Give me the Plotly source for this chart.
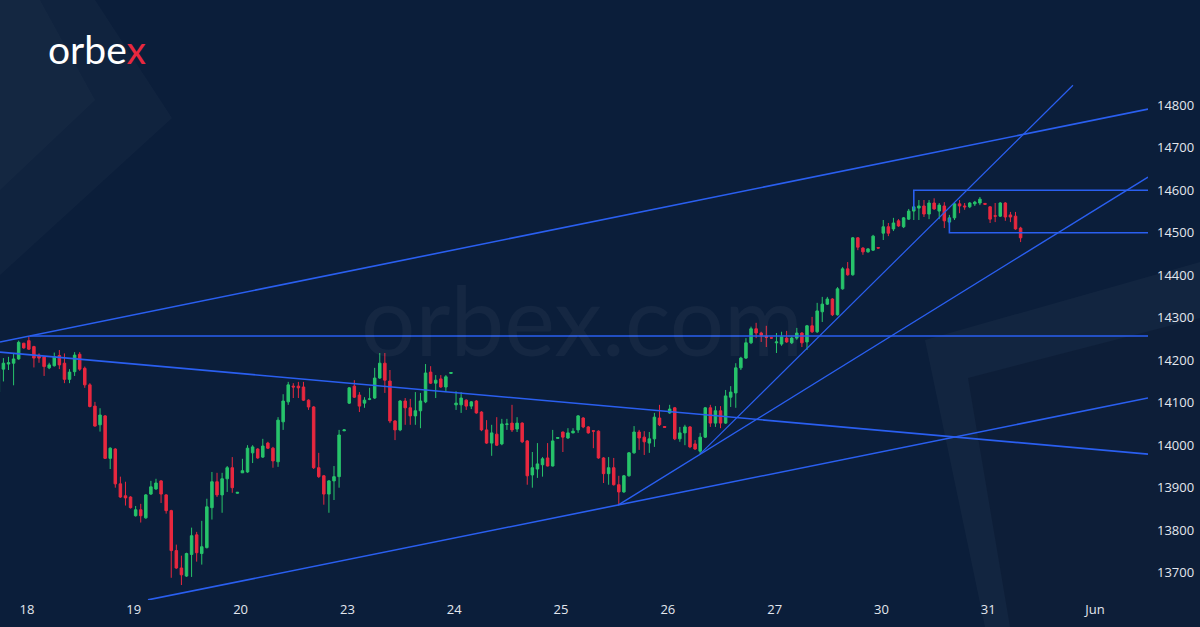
import plotly.graph_objects as go

# hourly candles, bar index 0..201 (May 17 late -> May 31)
open_ = [14125, 14179, 14191, 14193, 14203, 14240, 14246, 14232, 14212, 14208,
         14182, 14187, 14211, 14193, 14155, 14173, 14214, 14181, 14142, 14092,
         14048, 14069, 13969, 13991, 13909, 13881, 13878, 13834, 13848, 13829,
         13885, 13897, 13916, 13883, 13846, 13752, 13711, 13692, 13743, 13789,
         13745, 13759, 13853, 13914, 13883, 13921, 13947, 13887, 13935, 13937,
         13982, 13991, 13972, 14005, 13993, 13961, 14055, 14102, 14139, 14139,
         14137, 14106, 14090, 13947, 13928, 13885, 13916, 13926, 14034, 14099,
         14139, 14118, 14099, 14108, 14111, 14158, 14193, 14151, 14057, 14036,
         14104, 14088, 14069, 14081, 14102, 14172, 14146, 14156, 14137, 14169,
         14095, 14095, 14106, 14092, 14104, 14078, 14036, 14005, 14026, 14003,
         14049, 14052, 14038, 14052, 14010, 13930, 13944, 13954, 13970, 13951,
         14016, 14031, 14017, 14029, 14036, 14064, 14043, 14034, 14033, 13970,
         13933, 13947, 13907, 13890, 13928, 13982, 14031, 14019, 14005, 14015,
         14064, 14044, 14076, 14088, 14015, 14029, 14043, 14003, 13986, 14019,
         14088, 14052, 14081, 14052, 14113, 14123, 14182, 14205, 14241, 14274,
         14264, 14256, 14253, 14241, 14238, 14252, 14241, 14252, 14264, 14243,
         14281, 14267, 14314, 14332, 14344, 14307, 14368, 14415, 14401, 14488,
         14464, 14455, 14459, 14465, 14499, 14514, 14509, 14528, 14514, 14532,
         14551, 14558, 14563, 14544, 14570, 14551, 14563, 14525, 14535, 14568,
         14563, 14561, 14568, 14570, 14569, 14561, 14540, 14539, 14570, 14542,
         14539, 14511]
high = [14180, 14205, 14208, 14217, 14246, 14241, 14257, 14234, 14216, 14210,
        14194, 14218, 14224, 14216, 14179, 14219, 14219, 14185, 14146, 14102,
        14087, 14071, 13995, 13993, 13926, 13914, 13880, 13857, 13862, 13885,
        13916, 13921, 13918, 13885, 13848, 13766, 13740, 13747, 13806, 13796,
        13822, 13874, 13937, 13935, 13935, 13951, 13972, 13890, 13968, 14000,
        14000, 13993, 14015, 14008, 13996, 14066, 14120, 14149, 14146, 14149,
        14149, 14108, 14092, 13982, 13930, 13918, 13951, 14036, 14038, 14137,
        14153, 14125, 14113, 14135, 14182, 14217, 14217, 14177, 14059, 14106,
        14111, 14109, 14125, 14123, 14191, 14186, 14165, 14165, 14165, 14172,
        14127, 14125, 14108, 14104, 14106, 14080, 14059, 14048, 14066, 14062,
        14062, 14095, 14066, 14054, 14012, 13984, 14005, 13972, 14005, 14036,
        14019, 14032, 14040, 14040, 14071, 14066, 14045, 14035, 14035, 13972,
        13972, 13970, 13928, 13930, 13984, 14045, 14036, 14033, 14031, 14076,
        14095, 14045, 14095, 14090, 14043, 14048, 14045, 14012, 14029, 14090,
        14095, 14092, 14092, 14130, 14139, 14193, 14208, 14252, 14279, 14288,
        14267, 14281, 14254, 14264, 14267, 14269, 14255, 14276, 14266, 14283,
        14302, 14335, 14349, 14349, 14346, 14372, 14419, 14431, 14490, 14490,
        14466, 14464, 14495, 14466, 14530, 14523, 14535, 14532, 14537, 14556,
        14563, 14577, 14577, 14577, 14581, 14570, 14572, 14542, 14572, 14577,
        14570, 14572, 14575, 14584, 14570, 14563, 14570, 14572, 14572, 14549,
        14549, 14514]
low = [14120, 14150, 14177, 14141, 14201, 14227, 14224, 14183, 14194, 14163,
       14179, 14185, 14179, 14146, 14146, 14163, 14175, 14135, 14089, 14044,
       14032, 13968, 13944, 13900, 13876, 13858, 13851, 13832, 13818, 13827,
       13883, 13895, 13864, 13839, 13688, 13709, 13671, 13690, 13690, 13726,
       13719, 13757, 13825, 13878, 13841, 13890, 13888, 13886, 13935, 13935,
       13958, 13968, 13970, 13991, 13947, 13949, 14036, 14095, 14111, 14111,
       14104, 14083, 13944, 13923, 13860, 13841, 13871, 13900, 14033, 14097,
       14111, 14078, 14088, 14106, 14109, 14156, 14123, 14052, 14012, 14033,
       14048, 14048, 14048, 14040, 14099, 14144, 14111, 14135, 14125, 14168,
       14083, 14076, 14083, 14085, 14074, 14033, 14003, 13975, 13998, 14000,
       14036, 14031, 14031, 14005, 13907, 13900, 13923, 13926, 13950, 13950,
       14015, 13984, 14015, 14028, 14029, 14040, 14027, 13993, 13968, 13911,
       13907, 13905, 13860, 13888, 13926, 13980, 13989, 13977, 13982, 13996,
       14045, 14041, 14074, 14012, 14008, 14000, 13993, 13989, 13979, 14017,
       14043, 14043, 14040, 14050, 14090, 14088, 14177, 14203, 14238, 14252,
       14243, 14231, 14250, 14217, 14234, 14241, 14238, 14248, 14231, 14224,
       14264, 14264, 14290, 14330, 14304, 14305, 14366, 14399, 14399, 14459,
       14448, 14453, 14457, 14463, 14483, 14492, 14504, 14514, 14511, 14530,
       14530, 14530, 14537, 14532, 14554, 14532, 14511, 14518, 14530, 14546,
       14554, 14558, 14563, 14565, 14566, 14523, 14525, 14537, 14528, 14525,
       14507, 14478]
close = [14177, 14193, 14194, 14203, 14242, 14229, 14226, 14205, 14205, 14185,
         14189, 14208, 14189, 14155, 14172, 14212, 14179, 14142, 14091, 14045,
         14071, 13969, 13993, 13909, 13878, 13876, 13853, 13848, 13834, 13883,
         13902, 13911, 13885, 13846, 13752, 13711, 13695, 13745, 13787, 13747,
         13761, 13855, 13914, 13883, 13921, 13947, 13900, 13889, 13940, 13993,
         13996, 13970, 13998, 13993, 13963, 14059, 14104, 14142, 14137, 14135,
         14106, 14090, 13947, 13926, 13885, 13916, 13926, 14024, 14036, 14135,
         14113, 14092, 14106, 14109, 14158, 14193, 14153, 14057, 14036, 14104,
         14088, 14069, 14081, 14104, 14170, 14146, 14153, 14137, 14161, 14171,
         14099, 14111, 14092, 14102, 14076, 14036, 14005, 14029, 14000, 14050,
         14050, 14036, 14052, 14008, 13928, 13947, 13956, 13968, 13951, 14010,
         14018, 14019, 14029, 14033, 14069, 14043, 14029, 14033, 13970, 13933,
         13947, 13907, 13890, 13928, 13982, 14031, 14017, 14008, 14015, 14066,
         14048, 14042, 14085, 14015, 14029, 14043, 13996, 13991, 14019, 14088,
         14052, 14081, 14052, 14116, 14125, 14182, 14205, 14241, 14274, 14264,
         14259, 14254, 14252, 14243, 14255, 14243, 14252, 14264, 14241, 14281,
         14267, 14316, 14332, 14344, 14307, 14368, 14415, 14401, 14488, 14466,
         14455, 14462, 14492, 14464, 14514, 14499, 14523, 14516, 14535, 14551,
         14561, 14563, 14544, 14570, 14556, 14565, 14528, 14535, 14568, 14563,
         14561, 14570, 14572, 14579, 14567, 14532, 14539, 14570, 14537, 14537,
         14509, 14488]
bars = list(range(len(open_)))

# day separators (bar position of each day label)
day_ticks = [5.64, 26.64, 47.64, 68.64, 89.64, 110.64, 131.64, 152.64, 173.64, 194.64, 215.64]
day_labels = ["18", "19", "20", "23", "24", "25", "26", "27", "30", "31", "Jun"]
price_ticks = [13700, 13800, 13900, 14000, 14100, 14200, 14300, 14400, 14500, 14600, 14700, 14800]
price_labels = [str(p) for p in price_ticks]

# drawn lines: [bar, bar], [price, price]
upper_channel_x, upper_channel_y = [0.33, 226.05], [14243, 14791]
lower_channel_x, lower_channel_y = [29.43, 226.05], [13636, 14111]
resistance_x, resistance_y = [6.23, 226.05], [14257, 14257]
falling_x, falling_y = [0.33, 226.05], [14219, 13979]
support_x, support_y = [121.85, 226.05], [13859, 14631]
steep_x, steep_y = [137.97, 211.3], [13979, 14847]
box_top_x, box_top_y = [180, 180, 226.05], [14554, 14600, 14600]
box_bot_x, box_bot_y = [187, 187, 226.05], [14535, 14500, 14500]

BG = "#0b1e3a"
BLUE = "#2a5ff0"
W, H = 1200, 627
L, R, T, B = 0, 52, 83, 27


def px(x, y):
    # figure pixel -> paper coords (for background decoration only)
    return x / (W - L - R), (H - B - y) / (H - T - B)


def poly(points, fill):
    path = ""
    for i, (x, y) in enumerate(points):
        a, b = px(x, y)
        path += ("M" if i == 0 else "L") + f"{a:.4f},{b:.4f} "
    return dict(type="path", path=path + "Z", xref="paper", yref="paper",
                fillcolor=fill, line_width=0, layer="below")


fig = go.Figure()

fig.add_trace(go.Candlestick(
    x=bars, open=open_, high=high, low=low, close=close,
    increasing_line_color="#27c46b", increasing_fillcolor="#27c46b",
    decreasing_line_color="#e8283f", decreasing_fillcolor="#e8283f",
    line_width=1, whiskerwidth=0, hoverinfo="skip",
))

for xs, ys, w in [
    (upper_channel_x, upper_channel_y, 1.6),
    (lower_channel_x, lower_channel_y, 1.6),
    (resistance_x, resistance_y, 1.6),
    (falling_x, falling_y, 1.6),
    (support_x, support_y, 1.4),
    (steep_x, steep_y, 1.2),
    (box_top_x, box_top_y, 1.6),
    (box_bot_x, box_bot_y, 1.6),
]:
    fig.add_trace(go.Scatter(x=xs, y=ys, mode="lines",
                             line=dict(color=BLUE, width=w), hoverinfo="skip"))

shapes = [
    poly([(0, 0), (95, 0), (172, 118), (0, 275)], "rgba(255,255,255,0.025)"),
    poly([(0, 0), (40, 0), (95, 100), (0, 190)], "rgba(255,255,255,0.02)"),
    poly([(925, 340), (1200, 262), (1200, 627), (985, 627)], "rgba(255,255,255,0.03)"),
    poly([(968, 378), (1200, 318), (1200, 627), (1010, 627)], "rgba(0,10,30,0.25)"),
]
fig.update_layout(shapes=shapes)

fig.add_annotation(text="orbex.com", x=px(582, 318)[0], y=px(582, 318)[1],
                   xref="paper", yref="paper", xanchor="center", yanchor="middle",
                   showarrow=False, font=dict(family="Lato", size=96, color="rgba(255,255,255,0.045)"))
fig.add_annotation(text="orbe<span style='color:#e8283f'>x</span>",
                   x=px(97, 49)[0], y=px(97, 49)[1], xref="paper", yref="paper",
                   xanchor="center", yanchor="middle",
                   showarrow=False,
                   font=dict(family="Lato", size=39, color="white", weight=400))

fig.update_layout(
    width=W, height=H,
    margin=dict(l=L, r=R, t=T, b=B),
    paper_bgcolor=BG,
    plot_bgcolor="rgba(0,0,0,0)",
    showlegend=False,
    font=dict(family="Open Sans", color="#e3e7ee", size=13),
    xaxis=dict(
        range=[0.33, 226.05], rangeslider_visible=False,
        tickvals=day_ticks, ticktext=day_labels,
        showgrid=False, zeroline=False, showline=False, ticks="",
    ),
    yaxis=dict(
        range=[13635.7, 14852.4], side="right",
        tickvals=price_ticks, ticktext=price_labels,
        showgrid=False, zeroline=False, showline=False,
        ticks="", ticklabelstandoff=8,
    ),
)

fig.write_html("out.html", config={"displayModeBar": False},
               post_script="document.body.style.margin='0';")
